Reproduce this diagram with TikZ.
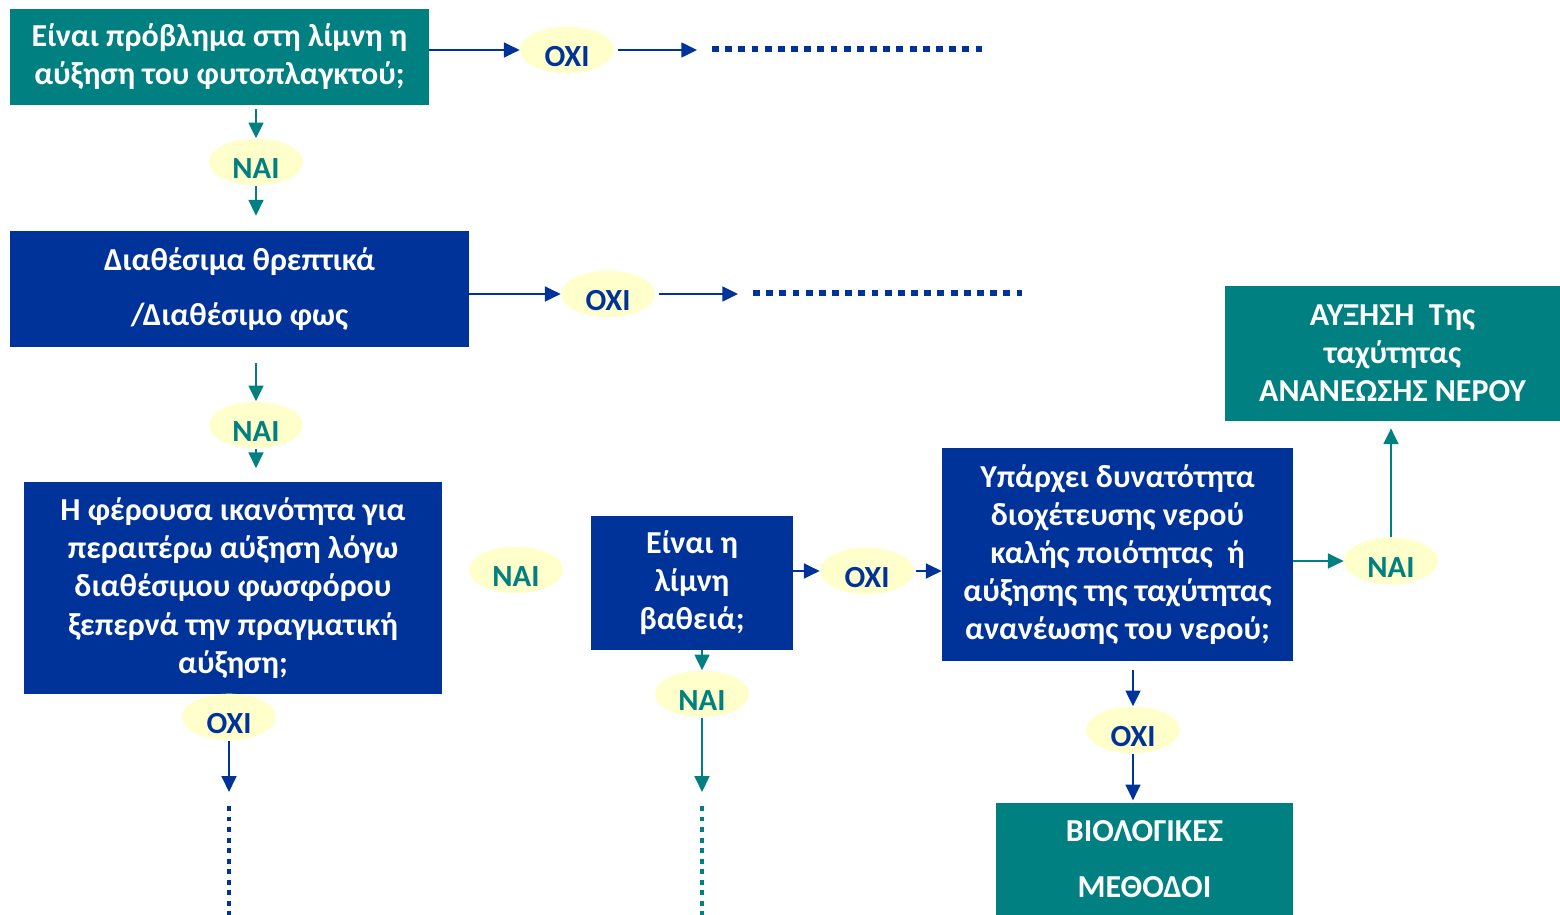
\documentclass[tikz,border=0pt]{standalone}
\usepackage{fontspec}
\setmainfont{Carlito}
\usetikzlibrary{shapes,arrows.meta,positioning,calc}
\definecolor{qteal}{RGB}{0,128,128}
\definecolor{qblue}{RGB}{0,51,153}
\definecolor{ovalyellow}{RGB}{255,255,204}

\begin{document}
\begin{tikzpicture}[
    x=0.02cm, y=-0.02cm,
    txt/.style={font=\fontsize{18.2}{21.7}\selectfont\bfseries, text=white, align=center, inner sep=0pt},
    tealbox/.style={txt, rectangle, fill=qteal},
    bluebox/.style={txt, rectangle, fill=qblue},
    oval/.style={ellipse, fill=ovalyellow, minimum width=1.88cm, minimum height=0.88cm, inner sep=0pt, text height=0.66cm, text depth=0cm, font=\fontsize{17.5}{21.6}\selectfont\bfseries},
    ovalyes/.style={oval, text=qteal},
    ovalno/.style={oval, text=qblue},
    arrowblue/.style={-{Triangle[length=9pt,width=8.5pt]}, line width=1.1pt, color=qblue},
    arrowteal/.style={-{Triangle[length=9pt,width=8.5pt]}, line width=1.1pt, color=qteal},
    dotline/.style={line width=3.9pt, dash pattern=on 3.9pt off 3.6pt},
    vdotline/.style={line width=2.8pt, dash pattern=on 2.8pt off 3.2pt}
]
\useasboundingbox (0,0) rectangle (1560,915);

% Left column: questions
\node[tealbox, minimum width=8.38cm, minimum height=1.92cm] (lake) at (219.5,57) {Είναι πρόβλημα στη λίμνη η\\αύξηση του φυτοπλαγκτού;};
\node[bluebox, minimum width=9.18cm, minimum height=2.32cm] (avail) at (239.5,289) {Διαθέσιμα θρεπτικά\\[10pt]/Διαθέσιμο φως};
\node[bluebox, minimum width=8.36cm, minimum height=4.26cm] (capac) at (233,588) {Η φέρουσα ικανότητα για\\περαιτέρω αύξηση λόγω\\διαθέσιμου φωσφόρου\\ξεπερνά την πραγματική\\αύξηση;};

% Middle and right: depth, water supply, measures
\node[bluebox, minimum width=4.04cm, minimum height=2.68cm] (deep) at (692,583) {Είναι η\\λίμνη\\βαθειά;};
\node[bluebox, minimum width=7.02cm, minimum height=4.26cm] (water) at (1117.5,554.5) {Υπάρχει δυνατότητα\\διοχέτευσης νερού\\καλής ποιότητας~ ή\\αύξησης της ταχύτητας\\ανανέωσης του νερού;};
\node[tealbox, minimum width=6.7cm, minimum height=2.7cm] (renew) at (1392.5,353.5) {ΑΥΞΗΣΗ~ Της\\ταχύτητας\\ΑΝΑΝΕΩΣΗΣ ΝΕΡΟΥ};
\node[tealbox, minimum width=5.94cm, minimum height=2.26cm] (bio) at (1144.5,859) {ΒΙΟΛΟΓΙΚΕΣ\\[10pt]ΜΕΘΟΔΟΙ};

% Answers
\node[ovalno] (no1) at (567,50) {ΟΧΙ};
\node[ovalyes] (yes1) at (256,162) {ΝΑΙ};
\node[ovalno] (no2) at (608,294) {ΟΧΙ};
\node[ovalyes] (yes2) at (256,425) {ΝΑΙ};
\node[ovalyes] (yes3) at (516,570) {ΝΑΙ};
\node[ovalno] (no3) at (229,717) {ΟΧΙ};
\node[ovalyes] (yes4) at (702,694) {ΝΑΙ};
\node[ovalno] (no4) at (867,571) {ΟΧΙ};
\node[ovalyes] (yes5) at (1391,561) {ΝΑΙ};
\node[ovalno] (no5) at (1133,730) {ΟΧΙ};

% Dotted continuations
\coordinate (d1s) at (712,49);   \coordinate (d1e) at (983,49);
\coordinate (d2s) at (753,293);  \coordinate (d2e) at (1022,293);
\coordinate (d3s) at (229,806);  \coordinate (d3e) at (229,915);
\coordinate (d4s) at (702,806);  \coordinate (d4e) at (702,915);

% Arrows
\draw[arrowblue] (lake.east |- no1) -- (no1);
\draw[arrowblue, shorten <=2pt, shorten >=8.5pt] (no1) -- (no1 -| d1s);
\draw[dotline, qblue] (d1s) -- (d1e);
\draw[arrowteal, shorten <=2pt] (yes1 |- lake.south) -- (yes1);
\draw[arrowteal, shorten >=8.5pt] (yes1) -- (yes1 |- avail.north);

\draw[arrowblue] (avail.east |- no2) -- (no2);
\draw[arrowblue, shorten <=2pt, shorten >=8.5pt] (no2) -- (no2 -| d2s);
\draw[dotline, qblue] (d2s) -- (d2e);
\draw[arrowteal, shorten <=9pt] (yes2 |- avail.south) -- (yes2);
\draw[arrowteal, shorten >=7.4pt] (yes2) -- (yes2 |- capac.north);

\draw[arrowblue, shorten >=8pt] (no3) -- (d3s);
\draw[vdotline, qblue] (d3s) -- (d3e);

\draw[arrowteal] (yes4 |- deep.south) -- (yes4);
\draw[arrowteal, shorten >=8pt] (yes4) -- (d4s);
\draw[vdotline, qteal] (d4s) -- (d4e);

\draw[arrowblue] (deep.east |- no4) -- (no4);
\draw[arrowblue, shorten <=1pt] (no4) -- (no4 -| water.west);
\draw[arrowteal] (water.east |- yes5) -- (yes5);
\draw[arrowteal, shorten >=4pt] (yes5) -- (yes5 |- renew.south);
\draw[arrowblue, shorten <=5pt] (no5 |- water.south) -- (no5);
\draw[arrowblue, shorten >=1pt] (no5) -- (no5 |- bio.north);

\end{tikzpicture}
\end{document}
